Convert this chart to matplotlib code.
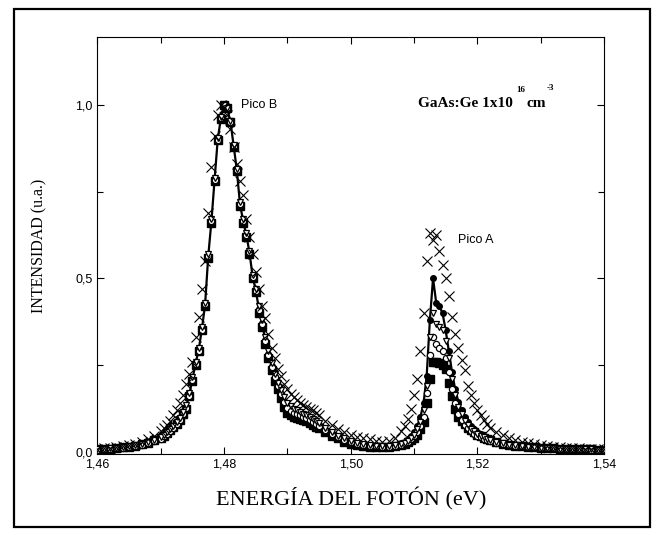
import numpy as np
import matplotlib
matplotlib.use("Agg")
import matplotlib.pyplot as plt
from matplotlib.patches import Rectangle
from matplotlib.ticker import MultipleLocator, FuncFormatter

# energias muestreadas (eV): colas cada 1 meV, picos cada 0,5 meV
energia = np.round(np.concatenate([
    np.arange(1.460, 1.4695, 0.001),
    np.arange(1.4700, 1.49501, 0.0005),
    np.arange(1.496, 1.5075, 0.001),
    np.arange(1.5080, 1.52201, 0.0005),
    np.arange(1.523, 1.5405, 0.001),
]), 4)

serie_cuadrados = [
    0.007, 0.008, 0.009, 0.011, 0.013, 0.015, 0.018, 0.022, 0.027, 0.034,
    0.040, 0.047, 0.054, 0.063, 0.072, 0.081, 0.092, 0.108, 0.125, 0.160,
    0.205, 0.250, 0.290, 0.350, 0.420, 0.560, 0.660, 0.780, 0.900, 0.960,
    1.000, 0.990, 0.950, 0.880, 0.810, 0.710, 0.660, 0.620, 0.570, 0.500,
    0.460, 0.400, 0.360, 0.310, 0.270, 0.235, 0.205, 0.180, 0.155, 0.130,
    0.112, 0.105, 0.102, 0.099, 0.095, 0.091, 0.088, 0.084, 0.078, 0.073, 0.068,
    0.057, 0.047, 0.039, 0.030, 0.024, 0.020, 0.017, 0.015, 0.014, 0.013, 0.014, 0.017,
    0.020, 0.024, 0.028, 0.033, 0.040, 0.050, 0.065, 0.085, 0.140, 0.210,
    0.260, 0.260, 0.255, 0.250, 0.240, 0.200, 0.160, 0.125, 0.100, 0.090,
    0.080, 0.070, 0.062, 0.056, 0.050, 0.045, 0.040, 0.036, 0.033,
    0.028, 0.024, 0.020, 0.018, 0.016, 0.014, 0.013, 0.012, 0.011, 0.010,
    0.009, 0.009, 0.008, 0.008, 0.007, 0.007, 0.006, 0.006,
]
serie_triangulos = [
    0.007, 0.008, 0.010, 0.012, 0.014, 0.016, 0.019, 0.023, 0.028, 0.035,
    0.042, 0.049, 0.056, 0.066, 0.076, 0.086, 0.098, 0.115, 0.135, 0.170,
    0.215, 0.260, 0.300, 0.360, 0.430, 0.570, 0.670, 0.790, 0.905, 0.965,
    1.000, 0.990, 0.955, 0.885, 0.815, 0.720, 0.670, 0.630, 0.580, 0.510,
    0.470, 0.420, 0.380, 0.330, 0.290, 0.255, 0.225, 0.200, 0.178, 0.158,
    0.142, 0.132, 0.125, 0.120, 0.115, 0.110, 0.105, 0.100, 0.094, 0.088, 0.082,
    0.068, 0.057, 0.047, 0.039, 0.032, 0.027, 0.023, 0.020, 0.018, 0.017, 0.017, 0.019,
    0.022, 0.027, 0.032, 0.040, 0.050, 0.065, 0.085, 0.120, 0.190, 0.330,
    0.400, 0.370, 0.360, 0.350, 0.320, 0.270, 0.210, 0.165, 0.130, 0.108,
    0.090, 0.077, 0.067, 0.059, 0.052, 0.047, 0.042, 0.038, 0.034,
    0.029, 0.025, 0.021, 0.019, 0.017, 0.015, 0.013, 0.012, 0.011, 0.010,
    0.009, 0.009, 0.008, 0.008, 0.007, 0.007, 0.006, 0.006,
]
serie_circulos = [
    0.006, 0.007, 0.009, 0.010, 0.012, 0.014, 0.017, 0.021, 0.026, 0.032,
    0.038, 0.045, 0.052, 0.060, 0.070, 0.080, 0.092, 0.108, 0.128, 0.162,
    0.207, 0.252, 0.292, 0.352, 0.425, 0.565, 0.665, 0.785, 0.900, 0.962,
    1.000, 0.990, 0.952, 0.882, 0.812, 0.715, 0.665, 0.625, 0.575, 0.505,
    0.465, 0.410, 0.370, 0.320, 0.280, 0.245, 0.215, 0.190, 0.166, 0.145,
    0.128, 0.118, 0.113, 0.109, 0.105, 0.101, 0.097, 0.092, 0.086, 0.080, 0.075,
    0.063, 0.052, 0.043, 0.035, 0.028, 0.023, 0.020, 0.017, 0.016, 0.015, 0.015, 0.018,
    0.021, 0.025, 0.030, 0.036, 0.045, 0.058, 0.075, 0.100, 0.170, 0.280,
    0.330, 0.310, 0.300, 0.290, 0.270, 0.230, 0.180, 0.140, 0.110, 0.092,
    0.078, 0.068, 0.060, 0.053, 0.047, 0.042, 0.038, 0.034, 0.031,
    0.027, 0.023, 0.020, 0.018, 0.016, 0.014, 0.013, 0.012, 0.011, 0.010,
    0.009, 0.008, 0.008, 0.007, 0.007, 0.006, 0.006, 0.005,
]
serie_llenos = [
    0.007, 0.008, 0.009, 0.011, 0.013, 0.015, 0.018, 0.022, 0.027, 0.034,
    0.041, 0.048, 0.055, 0.064, 0.074, 0.083, 0.095, 0.111, 0.130, 0.165,
    0.210, 0.255, 0.295, 0.355, 0.425, 0.565, 0.665, 0.785, 0.902, 0.962,
    1.000, 0.990, 0.952, 0.884, 0.814, 0.716, 0.666, 0.626, 0.576, 0.506,
    0.466, 0.412, 0.372, 0.322, 0.282, 0.247, 0.217, 0.192, 0.168, 0.146,
    0.130, 0.121, 0.116, 0.112, 0.108, 0.104, 0.100, 0.095, 0.089, 0.083, 0.077,
    0.064, 0.053, 0.044, 0.036, 0.029, 0.024, 0.021, 0.018, 0.017, 0.016, 0.017, 0.020,
    0.025, 0.030, 0.036, 0.045, 0.058, 0.075, 0.100, 0.140, 0.220, 0.380,
    0.500, 0.430, 0.420, 0.400, 0.350, 0.290, 0.230, 0.180, 0.145, 0.120,
    0.100, 0.085, 0.074, 0.065, 0.057, 0.051, 0.046, 0.041, 0.037,
    0.031, 0.027, 0.023, 0.020, 0.018, 0.016, 0.014, 0.013, 0.012, 0.011,
    0.010, 0.009, 0.009, 0.008, 0.008, 0.007, 0.007, 0.006,
]
serie_cruces = [
    0.009, 0.010, 0.012, 0.014, 0.017, 0.020, 0.024, 0.029, 0.036, 0.046,
    0.060, 0.068, 0.077, 0.090, 0.105, 0.122, 0.140, 0.165, 0.195, 0.225,
    0.260, 0.330, 0.390, 0.470, 0.550, 0.690, 0.820, 0.910, 0.970, 1.000,
    0.990, 0.970, 0.930, 0.880, 0.830, 0.780, 0.740, 0.670, 0.620, 0.570,
    0.520, 0.470, 0.420, 0.385, 0.340, 0.300, 0.270, 0.240, 0.220, 0.195,
    0.180, 0.168, 0.158, 0.150, 0.142, 0.135, 0.130, 0.125, 0.120, 0.113, 0.107,
    0.090, 0.078, 0.066, 0.057, 0.050, 0.044, 0.040, 0.036, 0.032, 0.030, 0.031, 0.040,
    0.060, 0.075, 0.095, 0.125, 0.165, 0.210, 0.290, 0.400, 0.550, 0.630,
    0.610, 0.625, 0.580, 0.540, 0.500, 0.450, 0.390, 0.340, 0.300, 0.265,
    0.235, 0.190, 0.165, 0.140, 0.120, 0.105, 0.092, 0.080, 0.070,
    0.058, 0.049, 0.041, 0.035, 0.030, 0.026, 0.022, 0.019, 0.017, 0.015,
    0.013, 0.012, 0.011, 0.010, 0.009, 0.008, 0.007, 0.007,
]

fig = plt.figure(figsize=(6.63, 5.36), dpi=100)
# marco exterior
fig.patches.append(Rectangle((14 / 663, 9 / 536), 636 / 663, 518 / 536,
                             transform=fig.transFigure, fill=False,
                             edgecolor='black', linewidth=1.6))
ax = fig.add_axes([0.147, 0.153, 0.764, 0.778])

ax.plot(energia, serie_cuadrados, 's', color='black', markersize=6, zorder=2)
ax.plot(energia, serie_llenos, '-o', color='black', markersize=4, linewidth=1.6, zorder=3)
ax.plot(energia, serie_circulos, 'o', mfc='white', mec='black', markersize=4.5, mew=0.9, zorder=4)
ax.plot(energia, serie_triangulos, 'v', mfc='white', mec='black', markersize=4.5, mew=0.9, zorder=5)
ax.plot(energia, serie_cruces, 'x', color='black', markersize=7, mew=0.8, zorder=6)

ax.set_xlim(1.46, 1.54)
ax.set_ylim(-0.006, 1.196)
ax.xaxis.set_major_locator(MultipleLocator(0.02))
ax.xaxis.set_minor_locator(MultipleLocator(0.01))
ax.yaxis.set_major_locator(MultipleLocator(0.5))
ax.yaxis.set_minor_locator(MultipleLocator(0.25))
ax.xaxis.set_major_formatter(FuncFormatter(lambda v, p: f"{v:.2f}".replace('.', ',')))
ax.yaxis.set_major_formatter(FuncFormatter(lambda v, p: f"{v:.1f}".replace('.', ',')))
ax.tick_params(which='both', direction='in', top=True, right=True, width=0.8,
               labelsize=9, labelfontfamily='Liberation Sans')
ax.tick_params(which='major', length=5)
ax.tick_params(which='minor', length=4)
for s in ax.spines.values():
    s.set_linewidth(0.8)

ax.set_xlabel('ENERGÍA DEL FOTÓN (eV)', family='Liberation Serif', fontsize=16, labelpad=12)
ax.set_ylabel('INTENSIDAD (u.a.)', family='Liberation Serif', fontsize=11.5, labelpad=20)

ax.text(1.4826, 1.0, 'Pico B', family='Liberation Sans', fontsize=9, va='center')
ax.text(1.5170, 0.612, 'Pico A', family='Liberation Sans', fontsize=9, va='center')
ax.text(1.5107, 1.005, 'GaAs:Ge 1x10', family='Liberation Serif', fontweight='bold', fontsize=11, va='center')
ax.text(1.5262, 1.042, '16', family='Liberation Serif', fontweight='bold', fontsize=6.5, va='center')
ax.text(1.5278, 1.005, 'cm', family='Liberation Serif', fontweight='bold', fontsize=11, va='center')
ax.text(1.5310, 1.050, '-3', family='Liberation Serif', fontweight='bold', fontsize=6.5, va='center')

fig.savefig('out.png', dpi=100)
